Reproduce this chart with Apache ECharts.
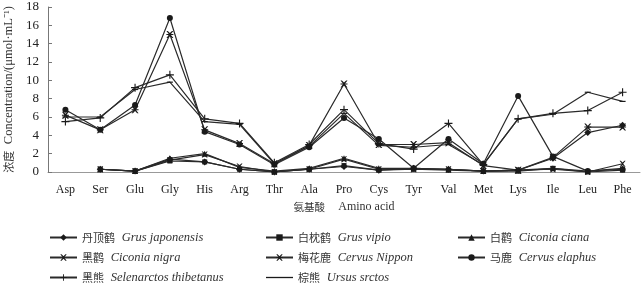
<!DOCTYPE html>
<html>
<head>
<meta charset="utf-8">
<script src="https://cdn.jsdelivr.net/npm/echarts@6/dist/echarts.min.js"></script>
<style>html,body{margin:0;padding:0;background:#fff}#c{width:644px;height:291px}</style>
</head>
<body>
<div id="c"></div>
<script>
var categories = ['Asp','Ser','Glu','Gly','His','Arg','Thr','Ala','Pro','Cys','Tyr','Val','Met','Lys','Ile','Leu','Phe'];
var yTicks = [0,2,4,6,8,10,12,14,16,18];

var grusJaponensis   = [null,0.3,0.1,1.4,1.1,0.3,0.0,0.3,0.6,0.2,0.4,0.3,0.1,0.2,1.5,4.3,5.1];
var grusVipio        = [null,0.3,0.1,1.2,1.1,0.3,0.0,0.3,0.7,0.2,0.3,0.2,0.1,0.1,0.4,0.0,0.2];
var ciconiaCiana     = [null,0.3,0.1,1.5,2.0,0.5,0.1,0.4,1.5,0.4,0.4,0.3,0.1,0.2,0.4,0.1,0.4];
var ciconiaNigra     = [null,0.3,0.1,1.3,1.9,0.6,0.0,0.3,1.4,0.3,0.3,0.3,0.1,0.2,0.3,0.0,0.9];
var cervusNippon     = [6.2,4.6,6.8,15.0,4.6,3.1,0.9,2.9,9.6,3.0,3.0,3.2,0.7,0.2,1.6,4.9,4.9];
var cervusElaphus    = [6.8,4.6,7.3,16.8,4.4,3.0,0.8,2.7,5.9,3.6,0.4,3.6,0.9,8.3,1.7,0.1,0.3];
var selenarctos      = [5.5,5.9,9.2,10.6,5.8,5.3,1.0,3.0,6.8,3.1,2.5,5.3,0.8,5.8,6.4,6.7,8.7];
var ursusArctos      = [6.0,6.0,9.0,9.8,5.5,5.2,0.9,2.8,6.4,2.9,2.7,3.0,0.8,5.8,6.3,8.7,7.7];

var names = [
  '丹顶鹤 Grus japonensis','白枕鹤 Grus vipio','白鹳 Ciconia ciana',
  '黑鹳 Ciconia nigra','梅花鹿 Cervus Nippon','马鹿 Cervus elaphus',
  '黑熊 Selenarctos thibetanus','棕熊 Ursus srctos'
];

var X_PATH = 'path://M0,0 L2,0 L5,3 L8,0 L10,0 L6,5 L10,10 L8,10 L5,7 L2,10 L0,10 L4,5 Z';
var AST_PATH = 'path://M0,0 L2,0 L5,3 L8,0 L10,0 L6,5 L10,10 L8,10 L5,7 L2,10 L0,10 L4,5 Z M0,4.3 L10,4.3 L10,5.7 L0,5.7 Z';
var PLUS_PATH = 'path://M4.3,0 L5.7,0 L5.7,4.3 L10,4.3 L10,5.7 L5.7,5.7 L5.7,10 L4.3,10 L4.3,5.7 L0,5.7 L0,4.3 L4.3,4.3 Z';
var DASH_PATH = 'path://M0,0 L10,0 L10,1 L0,1 Z';
var LINE_ICON = 'path://M0,0 L27,0 L27,1.3 L0,1.3 Z';

var defs = [
  {data: grusJaponensis, symbol: 'diamond', size: 7},
  {data: grusVipio, symbol: 'rect', size: 5},
  {data: ciconiaCiana, symbol: 'triangle', size: 6},
  {data: ciconiaNigra, symbol: X_PATH, size: 6},
  {data: cervusNippon, symbol: AST_PATH, size: 7},
  {data: cervusElaphus, symbol: 'circle', size: 6},
  {data: selenarctos, symbol: PLUS_PATH, size: 8},
  {data: ursusArctos, symbol: DASH_PATH, size: [6,1.2]}
];

var series = defs.map(function(d, i){
  return {
    name: names[i], type: 'line', data: d.data,
    symbol: d.symbol, symbolSize: d.size, showSymbol: true,
    lineStyle: {color: '#2a2a2a', width: 1.2},
    itemStyle: {color: '#1a1a1a'},
    connectNulls: false, animation: false
  };
});

var rich = {
  cn: {fontFamily: '"Noto Sans CJK SC"', fontSize: 11, color: '#333'},
  la: {fontFamily: '"Liberation Serif"', fontStyle: 'italic', fontSize: 12.5, color: '#333'}
};
function fmt(n){ var k = n.indexOf(' '); return '{cn|' + n.slice(0,k) + '}  {la|' + n.slice(k+1) + '}'; }
function legendCol(left, items){
  return {
    orient: 'vertical', left: left, top: 231, itemWidth: 27, itemHeight: 8, itemGap: 7,
    data: items, formatter: fmt, textStyle: {rich: rich}, selectedMode: false, padding: 0
  };
}

var chart = echarts.init(document.getElementById('c'), null, {renderer: 'canvas'});
chart.setOption({
  animation: false,
  backgroundColor: '#fff',
  grid: {left: 48, right: 4, top: 7, bottom: 119, containLabel: false, outerBoundsMode: 'none'},
  legend: [
    legendCol(49, [names[0], names[3], names[6]]),
    legendCol(265, [names[1], names[4], {name: names[7], icon: LINE_ICON}]),
    legendCol(457, [names[2], names[5]])
  ],
  xAxis: {
    type: 'category', data: categories, boundaryGap: true,
    name: '{cn|氨基酸}    {la|Amino acid}', nameLocation: 'middle', nameGap: 28,
    nameTextStyle: {rich: {
      cn: {fontFamily: '"Noto Sans CJK SC"', fontSize: 10.5, color: '#333'},
      la: {fontFamily: '"Liberation Serif"', fontSize: 12, color: '#333'}
    }},
    axisLine: {lineStyle: {color: '#999', width: 1}},
    axisTick: {inside: true, length: 4, lineStyle: {color: '#999'}},
    axisLabel: {fontFamily: '"Liberation Serif"', fontSize: 12, color: '#222', margin: 12, interval: 0},
    splitLine: {show: false}
  },
  yAxis: {
    type: 'value', min: 0, max: 18, interval: 2,
    name: '{cn|浓度}  {la|Concentration/(μmol·mL⁻¹)}', nameLocation: 'middle', nameGap: 25, nameRotate: 90,
    nameTextStyle: {rich: {
      cn: {fontFamily: '"Noto Sans CJK SC"', fontSize: 11, color: '#333'},
      la: {fontFamily: '"Liberation Serif"', fontSize: 12.5, color: '#333'}
    }},
    axisLine: {show: true, lineStyle: {color: '#777', width: 1}},
    axisTick: {show: true, inside: true, length: 4, lineStyle: {color: '#777'}},
    axisLabel: {fontFamily: '"Liberation Serif"', fontSize: 13, color: '#222', margin: 9,
      formatter: function(v){ return yTicks.indexOf(v) >= 0 ? String(v) : ''; }},
    splitLine: {show: false}
  },
  series: series
});
</script>
</body>
</html>
